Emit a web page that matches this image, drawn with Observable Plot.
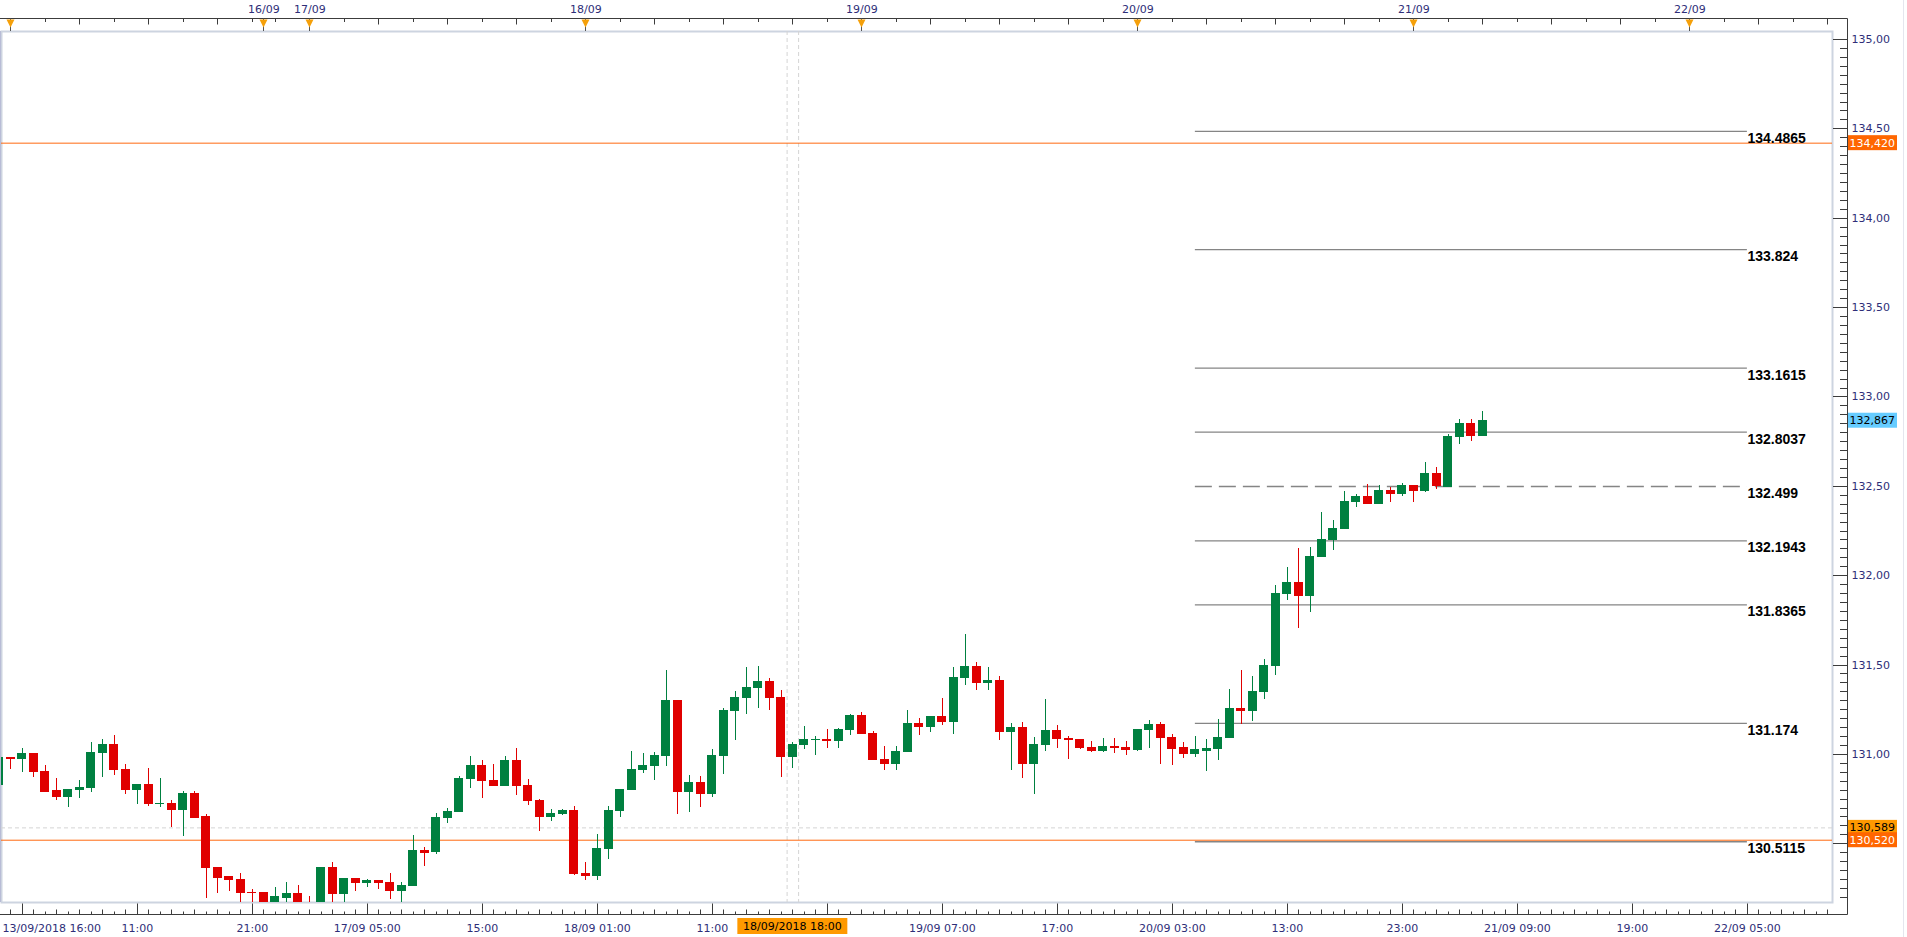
<!DOCTYPE html>
<html>
<head>
<meta charset="utf-8">
<script src="https://cdn.jsdelivr.net/npm/d3@7"></script>
<script src="https://cdn.jsdelivr.net/npm/@observablehq/plot@0.6"></script>
<style>
  html, body { margin: 0; padding: 0; background: #ffffff; overflow: hidden; }
  #chart svg { display: block; }
</style>
</head>
<body>
<div id="chart"></div>
<script>
// ---------------- DATA ----------------
// hourly candle slots: session start and number of hourly slots (weekend gap between)
const sessionStarts = ["2018-09-13T23:00", "2018-09-16T20:00"];
const sessionSlots = [23, 140];

// OHLC, first candle = 13/09 23:00 ... last = 21/09 06:00
const open = [
130.830,130.980,130.973,131.004,130.904,130.797,130.760,130.799,130.810,131.006,
131.055,130.915,130.799,130.831,130.720,130.724,130.687,130.781,130.652,130.367,
130.313,130.300,130.226,130.226,130.170,130.199,130.221,130.160,130.160,130.363,
130.217,130.305,130.279,130.294,130.283,130.234,130.262,130.462,130.452,130.642,
130.678,130.861,130.937,130.853,130.822,130.965,130.825,130.741,130.648,130.665,
130.686,130.333,130.318,130.469,130.682,130.799,130.911,130.933,130.990,131.301,
130.788,130.842,130.777,130.990,131.241,131.314,131.370,131.407,131.318,130.984,
131.052,131.080,131.083,131.073,131.135,131.217,131.116,130.970,130.945,131.012,
131.172,131.152,131.211,131.180,131.428,131.491,131.398,131.413,131.124,131.150,
130.945,131.052,131.133,131.088,131.083,131.038,131.017,131.044,131.038,131.023,
131.135,131.167,131.094,131.034,131.000,131.017,131.029,131.090,131.256,131.241,
131.348,131.493,131.896,131.961,131.885,132.103,132.198,132.260,132.411,132.443,
132.400,132.476,132.455,132.504,132.472,132.571,132.497,132.775,132.846,132.780];
const high = [
130.990,130.980,131.032,131.004,130.937,130.865,130.803,130.853,131.066,131.083,
131.105,130.943,130.831,130.920,130.865,130.741,130.792,130.792,130.663,130.367,
130.318,130.333,130.247,130.226,130.255,130.283,130.266,130.204,130.363,130.394,
130.305,130.305,130.300,130.294,130.333,130.283,130.546,130.478,130.669,130.698,
130.876,130.988,130.965,130.943,130.988,131.032,130.859,130.747,130.691,130.691,
130.708,130.394,130.551,130.708,130.803,131.016,131.004,131.010,131.469,131.301,
130.881,130.876,131.027,131.256,131.351,131.486,131.491,131.424,131.357,131.066,
131.155,131.100,131.139,131.144,131.222,131.234,131.128,131.044,131.044,131.245,
131.200,131.211,131.312,131.486,131.670,131.514,131.486,131.435,131.172,131.178,
131.094,131.307,131.161,131.100,131.083,131.072,131.090,131.090,131.072,131.139,
131.189,131.178,131.111,131.066,131.100,131.083,131.195,131.363,131.469,131.435,
131.530,131.945,132.045,132.152,132.157,132.353,132.308,132.471,132.454,132.510,
132.504,132.493,132.515,132.504,132.633,132.605,132.790,132.874,132.874,132.918];
const low = [
130.820,130.915,130.900,130.872,130.786,130.741,130.704,130.754,130.788,130.872,
130.883,130.777,130.721,130.710,130.704,130.590,130.542,130.640,130.195,130.223,
130.232,130.160,130.165,130.150,130.150,130.160,130.150,130.100,130.120,130.150,
130.160,130.234,130.257,130.245,130.190,130.170,130.260,130.374,130.441,130.614,
130.678,130.810,130.754,130.822,130.822,130.771,130.715,130.570,130.626,130.660,
130.323,130.295,130.295,130.413,130.648,130.799,130.894,130.855,130.933,130.665,
130.676,130.704,130.760,130.889,131.079,131.224,131.258,131.247,130.872,130.922,
131.029,130.993,131.034,131.034,131.107,131.112,130.967,130.911,130.911,131.012,
131.107,131.124,131.163,131.112,131.387,131.359,131.359,131.079,130.911,130.866,
130.777,131.017,131.034,130.973,131.029,131.012,131.012,131.006,130.995,131.017,
131.034,130.945,130.939,130.978,130.984,130.905,130.965,131.090,131.168,131.185,
131.308,131.443,131.862,131.706,131.795,132.103,132.142,132.260,132.383,132.400,
132.400,132.411,132.444,132.411,132.467,132.483,132.497,132.735,132.752,132.780];
const close = [
130.980,130.973,131.004,130.900,130.792,130.760,130.803,130.814,131.010,131.055,
130.911,130.799,130.831,130.721,130.724,130.687,130.781,130.646,130.363,130.307,
130.295,130.223,130.223,130.175,130.204,130.221,130.170,130.130,130.363,130.217,
130.305,130.279,130.294,130.279,130.234,130.266,130.462,130.450,130.646,130.680,
130.865,130.937,130.849,130.822,130.965,130.822,130.738,130.648,130.669,130.686,
130.329,130.318,130.473,130.686,130.803,130.915,130.937,130.993,131.301,130.788,
130.842,130.777,130.993,131.245,131.318,131.374,131.407,131.314,130.984,131.055,
131.083,131.083,131.073,131.139,131.217,131.112,130.967,130.945,131.016,131.172,
131.152,131.211,131.180,131.430,131.491,131.398,131.413,131.124,131.150,130.945,
131.055,131.133,131.084,131.080,131.034,131.017,131.044,131.034,131.023,131.139,
131.167,131.090,131.029,131.000,131.023,131.032,131.094,131.256,131.241,131.351,
131.497,131.900,131.961,131.885,132.107,132.202,132.264,132.415,132.443,132.400,
132.476,132.455,132.504,132.472,132.571,132.500,132.778,132.846,132.780,132.867];

// Fibonacci levels drawn on the right
const fibLevels = [134.4865, 133.824, 133.1615, 132.8037, 132.499, 132.1943, 131.8365, 131.174, 130.5115];
const fibLabels = ["134.4865", "133.824", "133.1615", "132.8037", "132.499", "132.1943", "131.8365", "131.174", "130.5115"];
const fibDashed = [false, false, false, false, true, false, false, false, false];
const fibStart = "2018-09-20T05:00";
const fibEnd = "2018-09-22T05:00";

// orange horizontal levels
const levelLines = [134.420, 130.520];

// right price axis (130,50 sits under the price tags)
const yTicks = [131.0, 131.5, 132.0, 132.5, 133.0, 133.5, 134.0, 134.5, 135.0];
const yTickLabels = ["131,00", "131,50", "132,00", "132,50", "133,00", "133,50", "134,00", "134,50", "135,00"];

// bottom time axis (the 18/09 21:00 label sits under the crosshair label)
const bottomTicks = ["2018-09-14T11:00", "2018-09-14T21:00", "2018-09-17T05:00", "2018-09-17T15:00",
  "2018-09-18T01:00", "2018-09-18T11:00", "2018-09-19T07:00", "2018-09-19T17:00",
  "2018-09-20T03:00", "2018-09-20T13:00", "2018-09-20T23:00", "2018-09-21T09:00", "2018-09-21T19:00",
  "2018-09-22T05:00"];
const bottomTickLabels = ["11:00", "21:00", "17/09 05:00", "15:00", "18/09 01:00", "11:00",
  "19/09 07:00", "17:00", "20/09 03:00", "13:00", "23:00", "21/09 09:00", "19:00", "22/09 05:00"];
const firstTimeLabel = "13/09/2018 16:00";

// top day markers
const dayDates = ["2018-09-14", "2018-09-16", "2018-09-17", "2018-09-18", "2018-09-19", "2018-09-20", "2018-09-21", "2018-09-22"];
const dayLabels = ["", "16/09", "17/09", "18/09", "19/09", "20/09", "21/09", "22/09"];

// crosshair
const cursorTime = "2018-09-18T18:00";
const cursorPrice = 130.589;
const cursorTimeLabel = "18/09/2018 18:00";

// price tags on the right axis
const tagValues = [134.420, 132.867, 130.589, 130.520];
const tagTexts = ["134,420", "132,867", "130,589", "130,520"];
const tagFills = ["#ff6600", "#66ccff", "#ff9900", "#ff6600"];
const tagTextColors = ["#ffffff", "#000000", "#000000", "#ffffff"];

// ---------------- BUILD ----------------
const GREEN = "#008040", RED = "#e00000", NAVY = "#2e2e78";
const slots = [];
sessionStarts.forEach((s, k) => {
  const t0 = Date.parse(s + ":00Z");
  for (let h = 0; h < sessionSlots[k]; h++) slots.push(new Date(t0 + h * 3600e3).toISOString().slice(0, 16));
});
const slotIndex = new Map(slots.map((t, k) => [t, k - 1]));
const ix = t => slotIndex.get(t);

const candles = open.map((o, k) => ({
  i: k - 1, o, h: high[k], l: low[k], c: close[k], col: close[k] >= o ? GREEN : RED
}));
const fib = fibLevels.map((v, k) => ({v, label: fibLabels[k], dashed: fibDashed[k]}));
const bottomIdx = bottomTicks.map(ix);
const dayIdx = dayDates.map(d => slots.findIndex(t => t.startsWith(d)) - 1);
const cursorIdx = ix(cursorTime);

const xDomain = [-0.809, 158.4];
const yDomain = [130.1715, 135.0448];

const chart = Plot.plot({
  width: 1907,
  height: 937,
  marginLeft: 1,
  marginRight: 75,
  marginTop: 31,
  marginBottom: 35,
  x: {type: "linear", domain: xDomain, label: null},
  y: {type: "linear", domain: yDomain, label: null},
  style: {background: "#ffffff", fontFamily: "DejaVu Sans", fontSize: "11px", color: NAVY, overflow: "visible"},
  marks: [
    Plot.frame({stroke: "#cdd4e0", strokeWidth: 2}),
    // crosshair
    Plot.ruleX([cursorIdx - 0.5, cursorIdx + 0.5], {stroke: "#d4d4d4", strokeDasharray: "4,3"}),
    Plot.ruleY([cursorPrice], {stroke: "#d4d4d4", strokeDasharray: "4,3"}),
    // fibonacci levels
    Plot.ruleY(fib.filter(d => !d.dashed), {y: "v", x1: ix(fibStart), x2: ix(fibEnd), stroke: "#858585", strokeWidth: 1.3}),
    Plot.ruleY(fib.filter(d => d.dashed), {y: "v", x1: ix(fibStart), x2: ix(fibEnd), stroke: "#858585", strokeWidth: 1.3, strokeDasharray: "17,7"}),
    // orange levels
    Plot.ruleY(levelLines, {stroke: "#ff6a10", strokeWidth: 1}),
    // candles
    Plot.ruleX(candles, {x: "i", y1: "l", y2: "h", stroke: "col", strokeWidth: 1, clip: true, shapeRendering: "crispEdges"}),
    Plot.rect(candles, {
      x1: d => d.i - 0.35, x2: d => d.i + 0.35,
      y1: d => Math.min(d.o, d.c), y2: d => Math.max(d.o, d.c),
      fill: "col", stroke: "col", strokeWidth: 1, clip: true, shapeRendering: "crispEdges"
    }),
    // fib labels
    Plot.text(fib, {x: ix(fibEnd), y: "v", text: "label", textAnchor: "start", lineAnchor: "top", dy: 1.5,
      fontFamily: "Liberation Sans", fontSize: 14, fontWeight: "bold", fill: "#000000"}),
    // axes labels
    Plot.axisY(yTicks, {anchor: "right", label: null, tickSize: 0, tickPadding: 19, fill: NAVY,
      tickFormat: d => yTickLabels[yTicks.indexOf(d)]}),
    Plot.axisX(bottomIdx, {anchor: "bottom", label: null, tickSize: 0, tickPadding: 21.5, fill: NAVY,
      tickFormat: d => bottomTickLabels[bottomIdx.indexOf(d)]}),
    Plot.axisX(dayIdx.filter((d, k) => dayLabels[k] !== ""), {anchor: "top", label: null, tickSize: 0, tickPadding: 18.5, fill: NAVY,
      tickFormat: d => dayLabels[dayIdx.indexOf(d)]}),
    Plot.text([firstTimeLabel], {frameAnchor: "bottom-left", textAnchor: "start", lineAnchor: "top", dy: 21.5, dx: 1, fill: NAVY})
  ]
});
document.getElementById("chart").appendChild(chart);

// ---------------- chrome drawn with the chart's own scales ----------------
const sx = chart.scale("x"), sy = chart.scale("y");
const X = sx.apply ? sx.apply : d3.scaleLinear(sx.domain, sx.range);
const Y = sy.apply ? sy.apply : d3.scaleLinear(sy.domain, sy.range);
const svg = d3.select(chart);
const g = svg.append("g").attr("class", "chrome").attr("text-anchor", "start");
const AXIS = "#3c3c3c";
const axisX = 1847.5, topY = 18.5, botY = 914.5;

// left border
g.append("line").attr("x1", 0.5).attr("x2", 0.5).attr("y1", 31).attr("y2", 902).attr("stroke", "#b8bcd6");
// far right thin line
g.append("line").attr("x1", 1903.5).attr("x2", 1903.5).attr("y1", 0).attr("y2", 937).attr("stroke", "#e4e6ee");
// axis lines
g.append("line").attr("x1", 0).attr("x2", axisX).attr("y1", topY).attr("y2", topY).attr("stroke", AXIS);
g.append("line").attr("x1", 0).attr("x2", axisX).attr("y1", botY).attr("y2", botY).attr("stroke", AXIS);
g.append("line").attr("x1", axisX).attr("x2", axisX).attr("y1", topY).attr("y2", botY).attr("stroke", AXIS);

// right axis ticks (every 0.05, major every 0.5)
for (let k = Math.ceil(yDomain[0] * 20); k <= Math.floor(yDomain[1] * 20); k++) {
  const yy = Math.round(Y(k / 20)) + 0.5, major = k % 10 === 0;
  g.append("line").attr("x1", major ? 1833 : 1840).attr("x2", axisX).attr("y1", yy).attr("y2", yy).attr("stroke", AXIS);
}
// bottom & top time ticks
slots.forEach((t, k) => {
  const i = k - 1;
  if (i < xDomain[0] || i > xDomain[1]) return;
  const xx = Math.round(X(i)) + 0.5;
  const isMajor = (i - bottomIdx[0]) % 10 === 0;
  const len = isMajor ? 11 : (i % 2 === 0 ? 5 : 3);
  g.append("line").attr("x1", xx).attr("x2", xx).attr("y1", botY).attr("y2", botY - len).attr("stroke", AXIS);
  const hr = +t.slice(11, 13);
  if (hr % 3 === 0) {
    g.append("line").attr("x1", xx).attr("x2", xx).attr("y1", topY).attr("y2", topY + (hr % 6 === 0 ? 6 : 3.5)).attr("stroke", AXIS);
  }
});
// day markers
dayIdx.forEach(i => {
  const xx = Math.round(X(i)) + 0.5;
  g.append("line").attr("x1", xx).attr("x2", xx).attr("y1", topY).attr("y2", 31).attr("stroke", "#555");
  g.append("path").attr("d", `M${xx - 4},${topY + 1}L${xx + 4},${topY + 1}L${xx},${topY + 9}Z`).attr("fill", "#f5a00a");
});
// price tags
tagValues.forEach((v, k) => {
  const yy = Y(v);
  g.append("rect").attr("x", 1848).attr("y", yy - 7.5).attr("width", 49).attr("height", 15).attr("fill", tagFills[k]);
  g.append("text").attr("x", 1849.5).attr("y", yy + 4).attr("text-anchor", "start").attr("fill", tagTextColors[k])
    .attr("font-family", "DejaVu Sans").attr("font-size", 11).text(tagTexts[k]);
});
// crosshair time label
{
  const cx = X(cursorIdx);
  g.append("rect").attr("x", cx - 55).attr("y", 918).attr("width", 110).attr("height", 16).attr("fill", "#ff9900");
  g.append("text").attr("x", cx).attr("y", 930).attr("text-anchor", "middle").attr("fill", "#000")
    .attr("font-family", "DejaVu Sans").attr("font-size", 11).text(cursorTimeLabel);
}
</script>
</body>
</html>
